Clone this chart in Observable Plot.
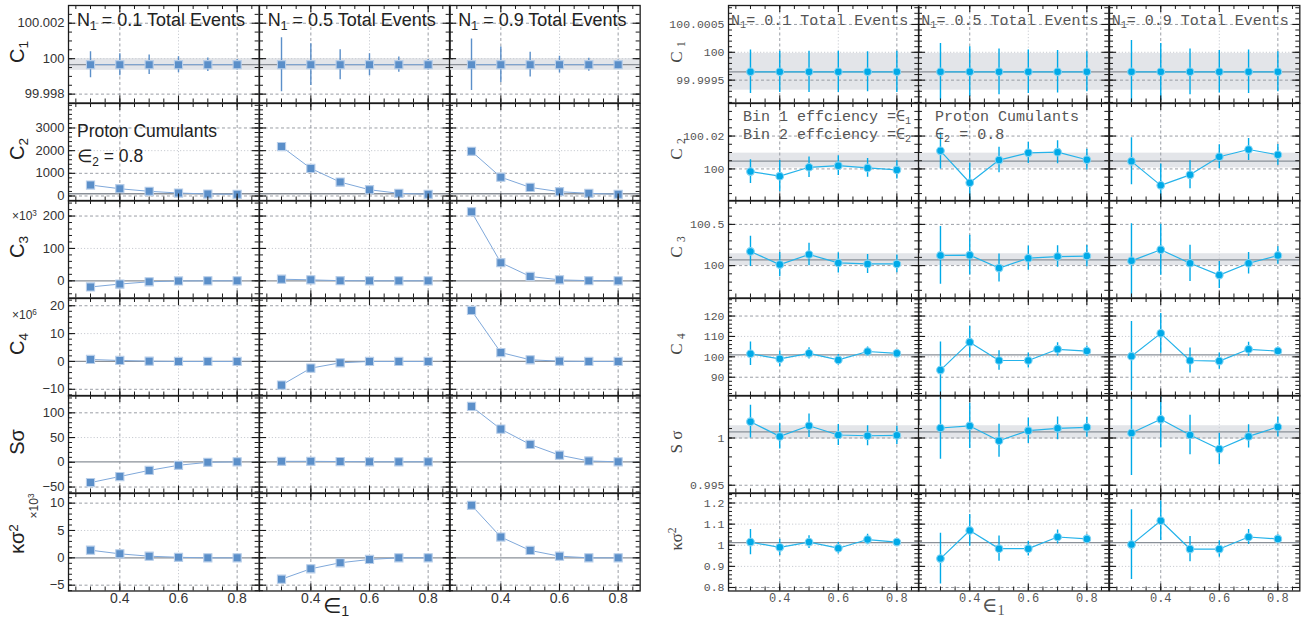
<!DOCTYPE html>
<html>
<head>
<meta charset="utf-8">
<script src="https://cdn.jsdelivr.net/npm/d3@7"></script>
<script src="https://cdn.jsdelivr.net/npm/@observablehq/plot@0.6"></script>
<style>
  html, body { margin: 0; padding: 0; background: #fff; }
  #chart { position: relative; width: 1313px; height: 620px; background: #fff; overflow: hidden; }
  .lbl { position: absolute; white-space: nowrap; line-height: 1; }
  .rot { transform: translate(-50%, -50%) rotate(-90deg); }
  .lbl sub { font-size: 0.68em; vertical-align: -0.32em; line-height: 0; }
  .lbl sup { font-size: 0.68em; vertical-align: 0.45em; line-height: 0; }
  .lbl.axt sub { vertical-align: -0.18em; }
  .sans { font-family: 'Liberation Sans', Arial, 'DejaVu Sans', sans-serif; color: #222; }
  .mono { font-family: 'Liberation Mono', 'DejaVu Sans Mono', monospace; color: #555; }
</style>
</head>
<body>
<div id="chart"></div>
<script>
// ---------------- DATA ----------------
const eps = [0.3, 0.4, 0.5, 0.6, 0.7, 0.8];
const fractions = ["0.1", "0.5", "0.9"];

// Left panel (uncorrected cumulants), one inner array per N1 fraction
const leftC1 = [
  [99.99966, 99.99966, 99.99966, 99.99966, 99.99966, 99.99966],
  [99.99966, 99.99966, 99.99966, 99.99966, 99.99966, 99.99966],
  [99.99966, 99.99966, 99.99966, 99.99966, 99.99966, 99.99966]
];
const leftC1Err = [
  [0.00073, 0.00062, 0.00055, 0.00045, 0.00038, 0.0003],
  [0.00152, 0.00118, 0.00085, 0.00062, 0.00043, 0.0003],
  [0.00145, 0.001, 0.0007, 0.00047, 0.00037, 0.00026]
];
const leftC2 = [
  [483, 320, 206, 132, 88, 74],
  [2180, 1215, 614, 276, 118, 75],
  [1970, 830, 380, 190, 118, 75]
];
const leftC3 = [ // x10^3
  [-19, -10, -3, -0.5, 0, 0],
  [5, 3, 0.5, 0, 0, 0],
  [213, 56, 13.5, 3, 0.5, 0]
];
const leftC4 = [ // x10^6
  [0.7, 0.35, 0.1, 0, 0, 0],
  [-8.5, -2.4, -0.5, 0, 0, 0],
  [18.3, 3.2, 0.6, 0.1, 0, 0]
];
const leftS = [
  [-41, -28.7, -16.4, -6, 0, 1],
  [2, 2, 1.5, 1, 1, 1],
  [113, 67, 36, 14.4, 2.7, 1]
];
const leftK = [ // x10^3
  [1.4, 0.73, 0.3, 0.1, 0, 0],
  [-3.9, -2, -0.9, -0.3, 0, 0],
  [9.6, 3.8, 1.35, 0.3, 0, 0]
];

// Right panel (efficiency-corrected cumulants)
const rightC1 = [
  [99.99965, 99.99965, 99.99965, 99.99965, 99.99965, 99.99965],
  [99.99965, 99.99965, 99.99965, 99.99965, 99.99965, 99.99965],
  [99.99965, 99.99965, 99.99965, 99.99965, 99.99965, 99.99965]
];
const rightC1Err = [
  [0.00039, 0.00037, 0.00037, 0.00037, 0.00036, 0.00037],
  [0.00051, 0.00045, 0.00041, 0.00039, 0.00038, 0.00036],
  [0.00056, 0.00051, 0.00041, 0.00038, 0.00039, 0.00036]
];
const rightC2 = [
  [99.9984, 99.9956, 100.001, 100.002, 100.0006, 99.9994],
  [100.011, 99.9916, 100.0054, 100.0098, 100.0102, 100.0056],
  [100.0046, 99.99, 99.9964, 100.0074, 100.0118, 100.0086]
];
const rightC2Err = [
  [0.0072, 0.0095, 0.0062, 0.006, 0.0057, 0.0055],
  [0.011, 0.012, 0.0078, 0.0065, 0.007, 0.0063],
  [0.0143, 0.013, 0.0085, 0.0073, 0.0067, 0.0063]
];
const rightC3 = [
  [100.172, 100.012, 100.135, 100.033, 100.02, 100.02],
  [100.123, 100.127, 99.97, 100.09, 100.11, 100.115],
  [100.058, 100.193, 100.028, 99.885, 100.028, 100.123]
];
const rightC3Err = [
  [0.184, 0.147, 0.137, 0.123, 0.115, 0.108],
  [0.35, 0.24, 0.17, 0.147, 0.13, 0.13],
  [0.45, 0.31, 0.22, 0.164, 0.13, 0.107]
];
const rightC4 = [
  [101.5, 99.0, 101.7, 98.5, 102.6, 101.7],
  [93.5, 107.2, 98.2, 98.2, 103.7, 102.8],
  [100.3, 111.5, 98.2, 97.9, 103.7, 102.8]
];
const rightC4Err = [
  [5.8, 3.8, 2.8, 2.6, 2.2, 1.5],
  [13.8, 7.8, 4.8, 3.7, 3.25, 2.5],
  [17, 9.75, 6.1, 4, 3.4, 2]
];
const rightS = [
  [1.00173, 1.00017, 1.0013, 1.00032, 1.00024, 1.00028],
  [1.00106, 1.00128, 0.99971, 1.00078, 1.00102, 1.00113],
  [1.00053, 1.00198, 1.00032, 0.99883, 1.00017, 1.00117]
];
const rightSErr = [
  [0.00174, 0.00133, 0.00124, 0.0011, 0.00106, 0.00097],
  [0.0033, 0.0024, 0.00174, 0.00135, 0.0012, 0.00106],
  [0.0045, 0.003, 0.0021, 0.00167, 0.00124, 0.00106]
];
const rightK = [
  [1.015, 0.99, 1.015, 0.986, 1.027, 1.015],
  [0.937, 1.07, 0.984, 0.984, 1.039, 1.03],
  [1.003, 1.116, 0.982, 0.982, 1.039, 1.03]
];
const rightKErr = [
  [0.06, 0.039, 0.03, 0.027, 0.025, 0.015],
  [0.12, 0.075, 0.06, 0.035, 0.033, 0.02],
  [0.165, 0.094, 0.06, 0.039, 0.035, 0.02]
];

// Reference values (true value line) and bands
const leftRef = [99.99966, 100, 0, 0, 1, 0];
const leftBandC1 = [99.99934, 100.0];
const rightRef = [99.99965, 100.0048, 100.07, 101, 1.00064, 1.0127];
const rightBands = [[99.99932, 99.99998], [100.0006, 100.0096], [100.0, 100.144], null, [0.99989, 1.0013], null];

// Tick values and labels
const xTicks = [0.4, 0.6, 0.8];
const xTickLabels = ["0.4", "0.6", "0.8"];
const leftYTicks = [
  [99.998, 100, 100.002], [0, 1000, 2000, 3000], [0, 100, 200],
  [-10, 0, 10, 20], [-50, 0, 50, 100], [-5, 0, 5, 10]
];
const leftYTickLabels = [
  ["99.998", "100", "100.002"], ["0", "1000", "2000", "3000"], ["0", "100", "200"],
  ["\u221210", "0", "10", "20"], ["\u221250", "0", "50", "100"], ["\u22125", "0", "5", "10"]
];
const rightYTicks = [
  [99.9995, 100, 100.0005], [100, 100.02], [100, 100.5],
  [90, 100, 110, 120], [0.995, 1], [0.8, 0.9, 1, 1.1, 1.2]
];
const rightYTickLabels = [
  ["99.9995", "100", "100.0005"], ["100", "100.02"], ["100", "100.5"],
  ["90", "100", "110", "120"], ["0.995", "1"], ["0.8", "0.9", "1", "1.1", "1.2"]
];
const leftRowLabels = ["C<sub>1</sub>", "C<sub>2</sub>", "C<sub>3</sub>", "C<sub>4</sub>", "S\u03C3", "\u03BA\u03C3<sup>2</sup>"];
const rightRowLabels = ["C <sub>1</sub>", "C <sub>2</sub>", "C <sub>3</sub>", "C <sub>4</sub>", "S \u03C3", "\u03BA\u03C3<sup>2</sup>"];

// ---------------- LAYOUT / STYLE ----------------
const xDomain = [0.225, 0.875];
const top0 = 5, rowH = 97.5;
const leftDomains = [[99.9975, 100.003], [-220, 4080], [-53, 248], [-12.4, 22.6], [-62, 135], [-6.06, 11.76]];
const leftMinor = [0.0005, 200, 20, 2, 10, 1];
const leftGridDark = [[99.998, 100.002], [0, 1000, 3000], [200], [20, -10], [100, -50], [10, -5]];
const leftGridLight = [[100], [2000], [100], [10], [50], [5]];
const rightDomains = [[99.99909, 100.00084], [99.9805, 100.0398], [99.607, 100.79], [80.8, 128.6], [0.99418, 1.0045], [0.7835, 1.245]];
const rightMinor = [0.0001, 0.005, 0.1, 2, 0.001, 0.02];
const rightGridDark = [[100.0005, 99.9995], [100.02, 100], [100.5, 100], [120, 90], [1, 0.995], [1.2, 0.8]];
const rightGridLight = [[100], [], [], [110, 100], [], [1.1, 1, 0.9]];

const panels = [
  {
    name: "left", x0: 68, x1: 640,
    rows: [leftC1, leftC2, leftC3, leftC4, leftS, leftK],
    errs: [leftC1Err, null, null, null, null, null],
    refs: leftRef, bands: [leftBandC1, null, null, null, null, null],
    domains: leftDomains, minor: leftMinor, ticks: leftYTicks, tickLabels: leftYTickLabels,
    gridDark: leftGridDark, gridLight: leftGridLight,
    font: "'Liberation Sans', Arial, sans-serif", tickColor: "#333", tickSize: "13px", xTickSize: "14px",
    symbol: "square", r: 4.6, fill: "#5b8fc9", halo: "#b8cee9", lineColor: "#7ea8da", lineWidth: 1, errColor: "#5b8fc9"
  },
  {
    name: "right", x0: 728, x1: 1299,
    rows: [rightC1, rightC2, rightC3, rightC4, rightS, rightK],
    errs: [rightC1Err, rightC2Err, rightC3Err, rightC4Err, rightSErr, rightKErr],
    refs: rightRef, bands: rightBands,
    domains: rightDomains, minor: rightMinor, ticks: rightYTicks, tickLabels: rightYTickLabels,
    gridDark: rightGridDark, gridLight: rightGridLight,
    font: "'Liberation Mono', 'DejaVu Sans Mono', monospace", tickColor: "#555", tickSize: "11.5px", xTickSize: "12px",
    symbol: "circle", r: 3.8, fill: "#00aae8", halo: "#7fd3f3", lineColor: "#25b3ea", lineWidth: 1.2, errColor: "#00aae8"
  }
];

function stepTicks(lo, hi, step) {
  const out = [];
  for (let k = Math.ceil(lo / step - 1e-9); k * step <= hi + step * 1e-9; k++) out.push(+(k * step).toPrecision(12));
  return out;
}

const chart = document.getElementById("chart");
const xMinorTicks = stepTicks(xDomain[0], xDomain[1], 0.05);

panels.forEach(P => {
  const colW = (P.x1 - P.x0) / 3;
  P.rows.forEach((vals, r) => {
    const [lo, hi] = P.domains[r];
    const yMajor = P.ticks[r];
    const yMinor = stepTicks(lo, hi, P.minor[r]).filter(v => v > lo && v < hi);
    const fmt = new Map(yMajor.map((t, i) => [t, P.tickLabels[r][i]]));
    const xfmt = new Map(xTicks.map((t, i) => [t, xTickLabels[i]]));
    for (let c = 0; c < 3; c++) {
      const data = eps.map((x, i) => ({x, y: vals[c][i], e: P.errs[r] ? P.errs[r][c][i] : 0}));
      const W = colW, H = rowH;
      const marks = [];
      if (P.bands[r]) marks.push(Plot.rect([P.bands[r]], {y1: d => d[0], y2: d => d[1], fill: "#e3e5e9"}));
      marks.push(
        Plot.ruleX([0.6], {stroke: "#c9ccd2", strokeWidth: 1, strokeDasharray: "1.2,2"}),
        Plot.ruleX([0.4, 0.8], {stroke: "#8e939b", strokeWidth: 0.9, strokeDasharray: "3,2.5"}),
        Plot.ruleY(P.gridLight[r], {stroke: "#c9ccd2", strokeWidth: 1, strokeDasharray: "1.2,2"}),
        Plot.ruleY(P.gridDark[r], {stroke: "#8e939b", strokeWidth: 0.9, strokeDasharray: "3,2.5"}),
        Plot.ruleY([P.refs[r]], {stroke: "#8a9098", strokeWidth: 1.3})
      );
      if (P.errs[r]) marks.push(Plot.ruleX(data, {x: "x", y1: d => d.y - d.e, y2: d => d.y + d.e, stroke: P.errColor, strokeWidth: 1.4, clip: true}));
      marks.push(
        Plot.line(data, {x: "x", y: "y", stroke: P.lineColor, strokeWidth: P.lineWidth, clip: true}),
        Plot.dot(data, {x: "x", y: "y", symbol: P.symbol, r: P.r, fill: P.fill, stroke: P.halo, strokeWidth: 1.1, clip: true}),
        Plot.frame({stroke: "#1b1b1b", strokeWidth: 1.3}),
        // inward ticks on all four sides
        Plot.tickY(yMajor.filter(v => v > lo && v < hi), {y: d => d, insetRight: W - 7, stroke: "#1b1b1b", strokeWidth: 1.1}),
        Plot.tickY(yMajor.filter(v => v > lo && v < hi), {y: d => d, insetLeft: W - 7, stroke: "#1b1b1b", strokeWidth: 1.1}),
        Plot.tickY(yMinor, {y: d => d, insetRight: W - 4, stroke: "#1b1b1b", strokeWidth: 1}),
        Plot.tickY(yMinor, {y: d => d, insetLeft: W - 4, stroke: "#1b1b1b", strokeWidth: 1}),
        Plot.tickX(xTicks, {x: d => d, insetBottom: H - 7, stroke: "#1b1b1b", strokeWidth: 1.1}),
        Plot.tickX(xTicks, {x: d => d, insetTop: H - 7, stroke: "#1b1b1b", strokeWidth: 1.1}),
        Plot.tickX(xMinorTicks, {x: d => d, insetBottom: H - 4, stroke: "#1b1b1b", strokeWidth: 1}),
        Plot.tickX(xMinorTicks, {x: d => d, insetTop: H - 4, stroke: "#1b1b1b", strokeWidth: 1})
      );
      if (c === 0) marks.push(Plot.axisY(yMajor, {anchor: "left", tickSize: 0, tickPadding: 4, tickFormat: d => fmt.get(d), label: null, fill: P.tickColor, fontSize: P.tickSize}));
      if (r === 5) marks.push(Plot.axisX(xTicks, {anchor: "bottom", tickSize: 0, tickPadding: 2, tickFormat: d => xfmt.get(d), label: null, fill: P.tickColor, fontSize: P.xTickSize}));
      const svg = Plot.plot({
        width: W, height: H,
        marginLeft: 0, marginRight: 0, marginTop: 0, marginBottom: 0,
        x: {domain: xDomain, axis: null},
        y: {domain: [lo, hi], axis: null},
        style: {fontFamily: P.font, background: "transparent", overflow: "visible", color: P.tickColor},
        marks
      });
      svg.style.position = "absolute";
      svg.style.left = (P.x0 + c * colW) + "px";
      svg.style.top = (top0 + r * rowH) + "px";
      svg.style.overflow = "visible";
      svg.style.maxWidth = "none";
      svg.style.background = "transparent";
      chart.appendChild(svg);
    }
  });
});

// ---------------- TEXT ----------------
function addLabel(html, cls, x, y, css = "") {
  const d = document.createElement("div");
  d.className = "lbl " + cls;
  d.innerHTML = html;
  d.style.left = x + "px";
  d.style.top = y + "px";
  d.style.cssText += css;
  chart.appendChild(d);
  return d;
}
// panel titles
fractions.forEach((f, c) => {
  const lw = (640 - 68) / 3, rw = (1299 - 728) / 3;
  addLabel(`N<sub>1</sub> = ${f} Total Events`, "sans", 68 + c * lw + 9, 11, "font-size:18px;");
  addLabel(`N<sub>1</sub>= ${f} Total Events`, "mono", 728 + c * rw + 3, 13.5, "font-size:15px;");
});
// row labels
leftRowLabels.forEach((t, r) => {
  addLabel(t, "sans rot", 17, top0 + r * rowH + rowH / 2 - 2, "font-size:20px;");
});
rightRowLabels.forEach((t, r) => {
  addLabel(t, "mono rot", 676, top0 + r * rowH + rowH / 2 - 2, "font-size:17px;color:#444;font-family:'Liberation Serif','DejaVu Serif',serif;");
});
// multipliers
addLabel("\u00D710<sup>3</sup>", "sans", 12, 210, "font-size:12px;color:#333;");
addLabel("\u00D710<sup>6</sup>", "sans", 12, 309, "font-size:12px;color:#333;");
addLabel("\u00D710<sup>3</sup>", "sans rot", 34, 506, "font-size:12px;color:#333;");
// annotations
addLabel("Proton Cumulants", "sans", 77, 123, "font-size:17.5px;");
addLabel("\u2208<sub>2</sub> = 0.8", "sans", 77, 148, "font-size:17.5px;");
addLabel("Bin 1 effciency =\u2208<sub>1</sub>", "mono", 743, 110, "font-size:15px;");
addLabel("Bin 2 effciency =\u2208<sub>2</sub>", "mono", 743, 128, "font-size:15px;");
addLabel("Proton Cumulants", "mono", 935, 110, "font-size:15px;");
addLabel("\u2208<sub>2</sub> = 0.8", "mono", 935, 128, "font-size:15px;");
// x axis titles
addLabel("\u2208<sub>1</sub>", "sans axt", 323, 595, "font-size:21px;");
addLabel("\u2208<sub>1</sub>", "mono axt", 982, 595, "font-size:21px;font-family:'Liberation Serif','DejaVu Serif',serif;");
</script>
</body>
</html>
